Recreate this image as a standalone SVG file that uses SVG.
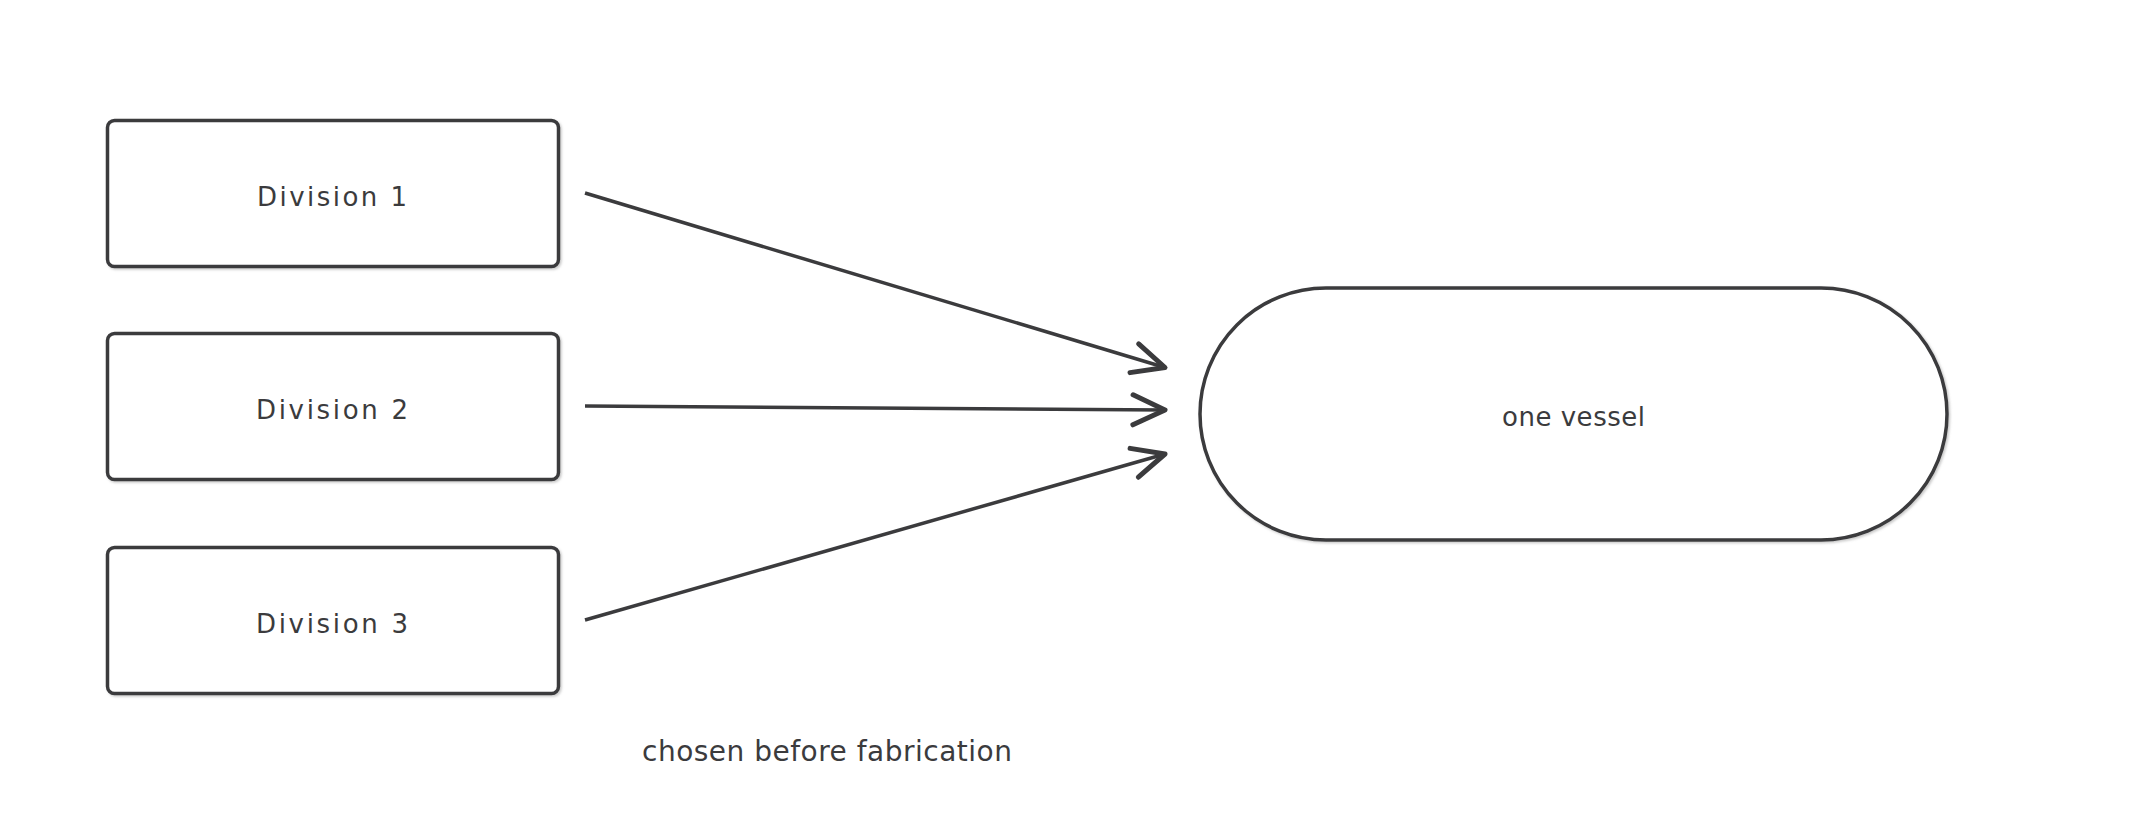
<svg xmlns="http://www.w3.org/2000/svg" width="2133" height="827" viewBox="0 0 2133 827">
<defs>
<style>
.box{fill:#ffffff;stroke:#3b3b3d;stroke-width:3.5;filter:url(#sh)}
.lbl{font-family:"DejaVu Sans","Liberation Sans",sans-serif;font-size:26px;fill:#3b3b3d;text-anchor:middle}
.cap{font-family:"DejaVu Sans","Liberation Sans",sans-serif;font-size:28px;fill:#3b3b3d;text-anchor:middle}
.edge{fill:none;stroke:#3b3b3d;stroke-width:3.5;marker-end:url(#arr)}
</style>
<filter id="sh" x="-5%" y="-5%" width="110%" height="115%">
<feDropShadow dx="1.5" dy="1.5" stdDeviation="1" flood-color="#888888" flood-opacity="0.45"/>
</filter>
<marker id="arr" markerUnits="userSpaceOnUse" viewBox="-40 -22 46 44" markerWidth="46" markerHeight="44" refX="0" refY="0" orient="auto">
<path d="M -32 -15 L 0 0 L -32 15" fill="none" stroke="#3b3b3d" stroke-width="5" stroke-linecap="round" stroke-linejoin="round"/>
</marker>
</defs>
<rect width="2133" height="827" fill="#ffffff"/>
<g id="connectors">
<path class="edge" d="M 585 193 L 1165 367.5"/>
<path class="edge" d="M 585 406 L 1165 410"/>
<path class="edge" d="M 585 620 L 1165 454"/>
</g>
<g id="division1">
<rect class="box" x="107.5" y="120.5" width="451" height="146" rx="7"/>
<text class="lbl" x="332" y="206" textLength="150" lengthAdjust="spacing">Division 1</text>
</g>
<g id="division2">
<rect class="box" x="107.5" y="333.5" width="451" height="146" rx="7"/>
<text class="lbl" x="332" y="419" textLength="152" lengthAdjust="spacing">Division 2</text>
</g>
<g id="division3">
<rect class="box" x="107.5" y="547.5" width="451" height="146" rx="7"/>
<text class="lbl" x="332" y="633" textLength="152" lengthAdjust="spacing">Division 3</text>
</g>
<g id="vessel">
<rect class="box" x="1200" y="288" width="747" height="252" rx="126"/>
<text class="lbl" x="1573.5" y="426" textLength="143" lengthAdjust="spacing">one vessel</text>
</g>
<g id="caption">
<text class="cap" x="827" y="761" textLength="370" lengthAdjust="spacing">chosen before fabrication</text>
</g>
</svg>
